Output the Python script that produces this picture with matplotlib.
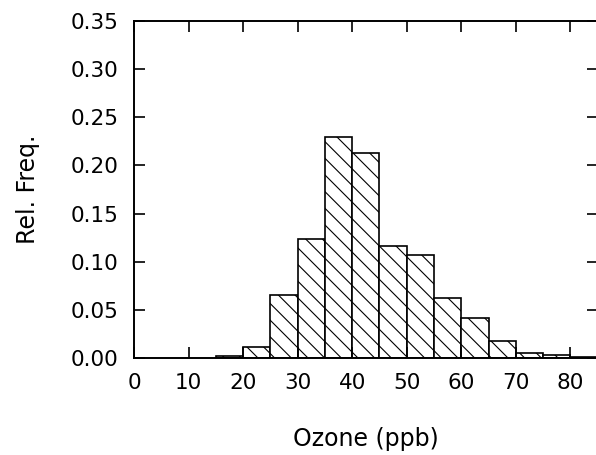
import numpy as np
import matplotlib.pyplot as plt

plt.rcParams['hatch.linewidth'] = 0.8

# relative frequency per 5 ppb ozone bin
bin_left = np.arange(15, 85, 5)
rel_freq = [0.002, 0.012, 0.066, 0.124, 0.229, 0.213, 0.116,
            0.107, 0.062, 0.042, 0.018, 0.005, 0.003, 0.001]
bin_width = 5

xticks = np.arange(0, 81, 10)
yticks = np.arange(0, 0.351, 0.05)

fig = plt.figure(figsize=(5.96, 4.55), dpi=100)
ax = fig.add_axes([0.2248, 0.213, 0.778, 0.741])

ax.bar(bin_left, rel_freq, width=bin_width, align='edge',
       facecolor='white', edgecolor='black', linewidth=1.2, hatch='\\\\')

ax.set_xlim(0, 85)
ax.set_ylim(0, 0.35)
ax.set_xticks(xticks)
ax.set_yticks(yticks)
ax.set_yticklabels([f'{v:.2f}' for v in yticks])
ax.tick_params(direction='in', length=8, width=1.2, top=True, right=True,
               labelsize=15.5, colors='black')
ax.tick_params(axis='y', pad=11)
ax.tick_params(axis='x', pad=11)
for s in ax.spines.values():
    s.set_linewidth(1.4)

ax.set_xlabel('Ozone (ppb)', fontsize=17, labelpad=24)
ax.set_ylabel('Rel. Freq.', fontsize=17, labelpad=22)

fig.savefig('out.png', dpi=100)
